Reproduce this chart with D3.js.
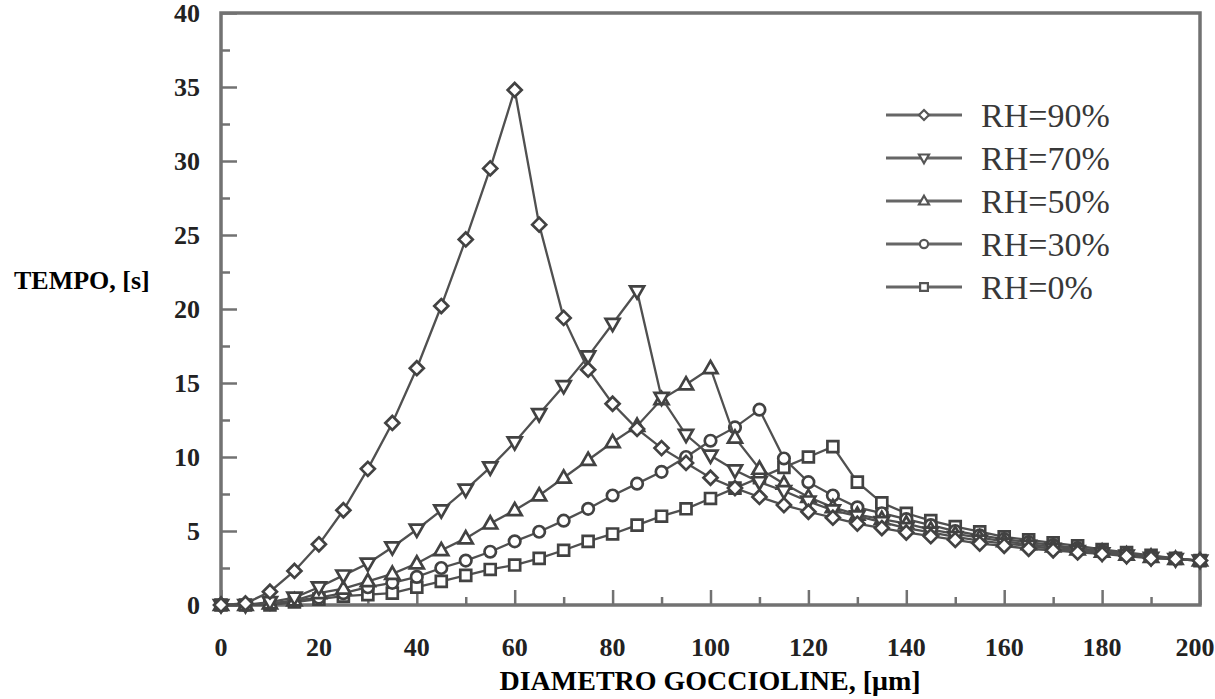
<!DOCTYPE html>
<html><head><meta charset="utf-8">
<script src="https://cdn.jsdelivr.net/npm/d3@7"></script>
<style>body{margin:0;background:#fff}</style>
</head><body><svg id="c" width="1215" height="699"></svg>
<script>
const diameters = [0,5,10,15,20,25,30,35,40,45,50,55,60,65,70,75,80,85,90,95,100,105,110,115,120,125,130,135,140,145,150,155,160,165,170,175,180,185,190,195,200];
const rh90 = [0,0.1,0.9,2.3,4.1,6.4,9.2,12.3,16.0,20.2,24.7,29.5,34.8,25.7,19.4,15.9,13.6,11.9,10.6,9.6,8.6,7.9,7.3,6.75,6.3,5.9,5.5,5.2,4.9,4.65,4.4,4.15,4.0,3.8,3.7,3.55,3.45,3.3,3.15,3.1,3.0];
const rh70 = [0,0,0.2,0.5,1.2,2.0,2.8,3.9,5.1,6.4,7.8,9.3,11.0,12.9,14.8,16.8,19.0,21.2,14.0,11.5,10.1,9.1,8.3,7.7,7.0,6.4,6.0,5.6,5.2,4.9,4.6,4.35,4.15,4.0,3.8,3.65,3.5,3.35,3.2,3.1,3.0];
const rh50 = [0,0,0.1,0.3,0.8,1.1,1.6,2.1,2.8,3.7,4.5,5.5,6.4,7.4,8.6,9.8,11.0,12.1,13.9,14.9,16.0,11.3,9.2,8.2,7.3,6.6,6.1,5.8,5.5,5.1,4.8,4.55,4.3,4.1,3.95,3.75,3.6,3.4,3.25,3.1,3.0];
const rh30 = [0,0,0.1,0.3,0.5,0.8,1.2,1.5,1.9,2.5,3.0,3.6,4.3,4.95,5.7,6.5,7.4,8.2,9.0,10.0,11.1,12.0,13.2,9.9,8.3,7.4,6.6,6.2,5.8,5.4,5.0,4.7,4.45,4.25,4.05,3.85,3.65,3.45,3.3,3.15,3.0];
const rh0  = [0,0,0,0.2,0.4,0.6,0.7,0.8,1.2,1.6,2.0,2.4,2.7,3.15,3.7,4.3,4.8,5.4,6.0,6.5,7.2,7.9,8.6,9.3,10.0,10.7,8.3,6.9,6.2,5.7,5.3,4.95,4.6,4.4,4.2,4.0,3.75,3.55,3.35,3.15,3.0];
const seriesNames = ["RH=90%","RH=70%","RH=50%","RH=30%","RH=0%"];
const seriesValues = [rh90, rh70, rh50, rh30, rh0];
const seriesMarkers = ["diamond","triDown","triUp","circle","square"];
const yTicks = [0,5,10,15,20,25,30,35,40];
const xTicks = [0,20,40,60,80,100,120,140,160,180,200];

const svg = d3.select("#c");
const x = d3.scaleLinear().domain([0,200]).range([221,1200]);
const y = d3.scaleLinear().domain([0,40]).range([605,13]);
const axisColor = "#727272", lineColor = "#505050", mColor = "#424242";
const serif = "'Liberation Serif','Times New Roman',serif";

// ticks (inward)
const yAxis = d3.axisRight(y).tickValues(d3.range(0,40.01,2.5)).tickSize(0).tickFormat("");
const gy = svg.append("g").attr("transform",`translate(${x(0)},0)`).call(yAxis);
gy.select(".domain").remove();
gy.selectAll(".tick line").attr("x2", d => d%5===0 ? 16 : 9).attr("stroke",axisColor).attr("stroke-width",2.5);
const xAxis = d3.axisTop(x).tickValues(d3.range(0,200.1,10)).tickSize(0).tickFormat("");
const gx = svg.append("g").attr("transform",`translate(0,${y(0)})`).call(xAxis);
gx.select(".domain").remove();
gx.selectAll(".tick line").attr("y2", d => d%20===0 ? -15 : -8).attr("stroke",axisColor).attr("stroke-width",2.5);

// frame
svg.append("rect").attr("x",x(0)).attr("y",y(40)).attr("width",x(200)-x(0)).attr("height",y(0)-y(40))
  .attr("fill","none").attr("stroke",axisColor).attr("stroke-width",3.5);

// tick labels
svg.append("g").selectAll("text").data(yTicks).join("text")
  .attr("x",200).attr("y",d=>y(d)).attr("dy","0.35em").attr("text-anchor","end")
  .attr("font-family",serif).attr("font-weight","bold").attr("font-size",26).attr("fill","#222").text(d=>d);
svg.append("g").selectAll("text").data(xTicks).join("text")
  .attr("x",d=>Math.min(x(d), 1195)).attr("y",656).attr("text-anchor","middle")
  .attr("font-family",serif).attr("font-weight","bold").attr("font-size",26).attr("fill","#222").text(d=>d);

// axis titles
svg.append("text").attr("x",710).attr("y",690).attr("text-anchor","middle")
  .attr("font-family",serif).attr("font-weight","bold").attr("font-size",28).attr("fill","#000").text("DIAMETRO GOCCIOLINE, [μm]");
svg.append("text").attr("x",14).attr("y",289)
  .attr("font-family",serif).attr("font-weight","bold").attr("font-size",26).attr("fill","#000").text("TEMPO, [s]");

function markerPath(kind, s) {
  if (kind==="diamond") return `M0,${-s}L${s},0L0,${s}L${-s},0Z`;
  if (kind==="square") { const h=s*0.78; return `M${-h},${-h}H${h}V${h}H${-h}Z`; }
  if (kind==="circle") { const r=s*0.82; return `M${r},0A${r},${r} 0 1,1 ${-r},0A${r},${r} 0 1,1 ${r},0Z`; }
  if (kind==="triUp") return `M0,${-s*1.05}L${s},${s*0.7}L${-s},${s*0.7}Z`;
  if (kind==="triDown") return `M0,${s*1.05}L${s},${-s*0.7}L${-s},${-s*0.7}Z`;
}

const line = d3.line().x(d=>x(d[0])).y(d=>y(d[1]));
const order = [4,3,2,1,0];
order.forEach(i => {
  const pts = diameters.map((dd,k)=>[dd, seriesValues[i][k]]);
  const g = svg.append("g");
  g.append("path").attr("d",line(pts)).attr("fill","none").attr("stroke",lineColor).attr("stroke-width",2.3);
  g.selectAll("path.m").data(pts).join("path").attr("class","m")
    .attr("transform",d=>`translate(${x(d[0])},${y(d[1])})`)
    .attr("d",markerPath(seriesMarkers[i],7))
    .attr("fill","#fff").attr("stroke",mColor).attr("stroke-width",2.7);
});

// legend
const lg = svg.append("g");
seriesNames.forEach((nm,i)=>{
  const ly = 115 + i*43;
  lg.append("line").attr("x1",886).attr("x2",962).attr("y1",ly).attr("y2",ly).attr("stroke","#666").attr("stroke-width",3);
  lg.append("path").attr("transform",`translate(924,${ly})`).attr("d",markerPath(seriesMarkers[i],5))
    .attr("fill","#fff").attr("stroke","#555").attr("stroke-width",2.2);
  lg.append("text").attr("x",981).attr("y",ly).attr("dy","0.35em").attr("font-family",serif)
    .attr("font-size",34).attr("fill","#383838").text(nm);
});
</script></body></html>
